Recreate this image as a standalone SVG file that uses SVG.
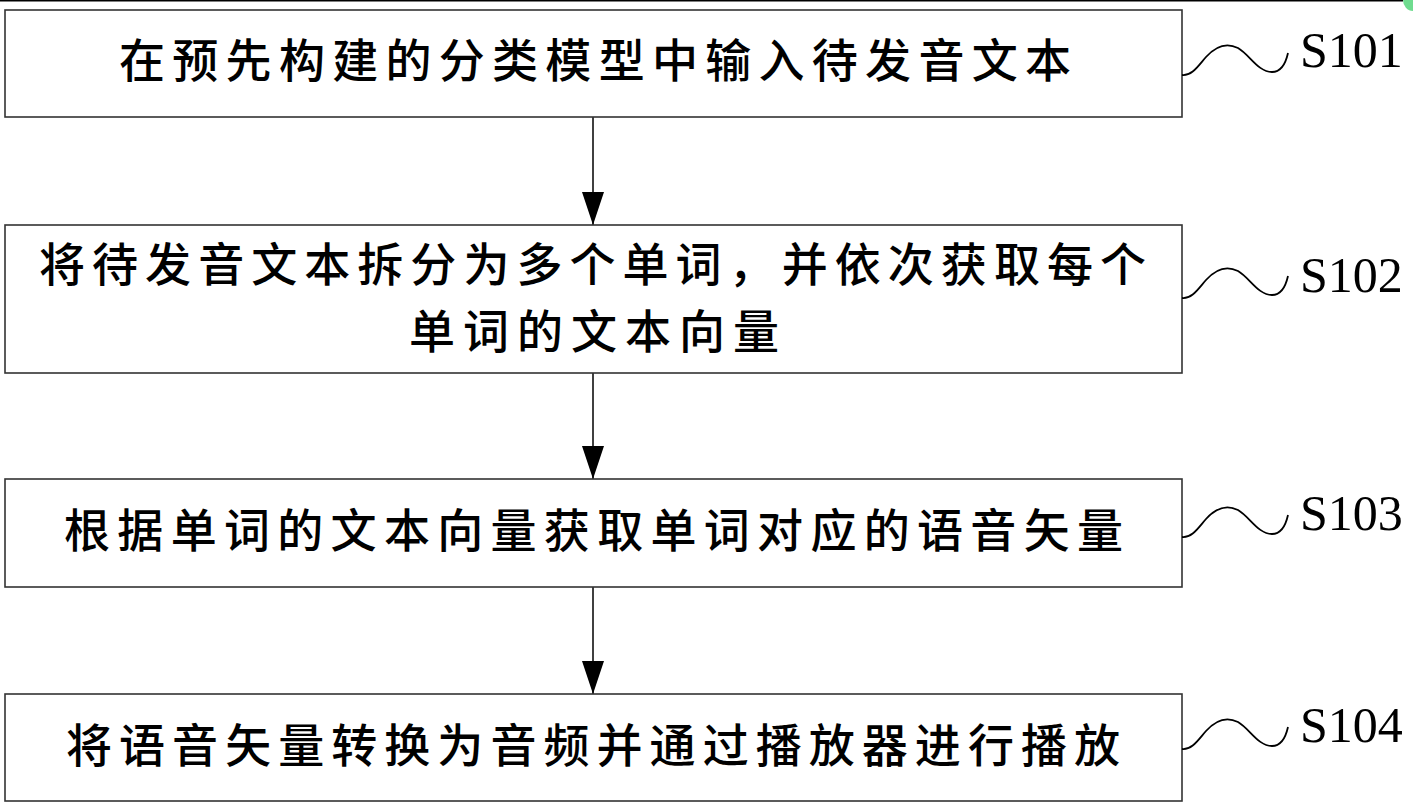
<svg xmlns="http://www.w3.org/2000/svg" width="1413" height="811" viewBox="0 0 1413 811">
<style>
.box{fill:#fff;stroke:#333;stroke-width:1.6}
.t{font-family:"Noto Sans CJK SC","Noto Sans CJK TC",sans-serif;font-size:46px;font-weight:500;fill:#000}
.lbl{font-family:"Liberation Serif","Times New Roman",serif;font-size:50px;fill:#000}
.wave{fill:none;stroke:#000;stroke-width:1.8}
.conn{stroke:#000;stroke-width:1.5;fill:none}
</style>
<defs>
<marker id="ah" markerWidth="33" markerHeight="22" refX="33" refY="11" orient="auto" markerUnits="userSpaceOnUse" viewBox="0 0 33 22">
<path d="M0,0 L33,11 L0,22 Z" fill="#000"/>
</marker>
<path id="wv" class="wave" d="M1182,75 C1192,76 1198,66 1206,57 C1215,47 1226,42 1238,48 C1250,55 1258,72 1272,72 C1282,72 1286,62 1288,53"/>
</defs>
<rect width="1413" height="811" fill="#fff"/>
<line x1="0" y1="0.8" x2="1403" y2="0.8" stroke="#000" stroke-width="1.6"/>
<ellipse cx="1413" cy="0" rx="10" ry="11" fill="#6fdc8f"/>
<g id="connectors">
<line class="conn" x1="593" y1="117" x2="593" y2="225" marker-end="url(#ah)"/>
<line class="conn" x1="593" y1="373" x2="593" y2="479" marker-end="url(#ah)"/>
<line class="conn" x1="593" y1="587" x2="593" y2="694" marker-end="url(#ah)"/>
</g>
<g id="s101">
<rect class="box" x="5" y="10" width="1177" height="107"/>
<text class="t" x="119" y="77" textLength="952" lengthAdjust="spacing">在预先构建的分类模型中输入待发音文本</text>
<use href="#wv"/>
<text class="lbl" x="1300" y="67">S101</text>
</g>
<g id="s102">
<rect class="box" x="5" y="225" width="1177" height="148"/>
<text class="t" x="39" y="281" textLength="1107" lengthAdjust="spacing">将待发音文本拆分为多个单词，并依次获取每个</text>
<text class="t" x="409" y="348" textLength="370" lengthAdjust="spacing">单词的文本向量</text>
<use href="#wv" transform="translate(0,223)"/>
<text class="lbl" x="1300" y="292">S102</text>
</g>
<g id="s103">
<rect class="box" x="5" y="479" width="1177" height="108"/>
<text class="t" x="64" y="547" textLength="1059" lengthAdjust="spacing">根据单词的文本向量获取单词对应的语音矢量</text>
<use href="#wv" transform="translate(0,462)"/>
<text class="lbl" x="1300" y="530">S103</text>
</g>
<g id="s104">
<rect class="box" x="5" y="694" width="1177" height="107"/>
<text class="t" x="66" y="762" textLength="1054" lengthAdjust="spacing">将语音矢量转换为音频并通过播放器进行播放</text>
<use href="#wv" transform="translate(0,674)"/>
<text class="lbl" x="1300" y="742">S104</text>
</g>
</svg>
